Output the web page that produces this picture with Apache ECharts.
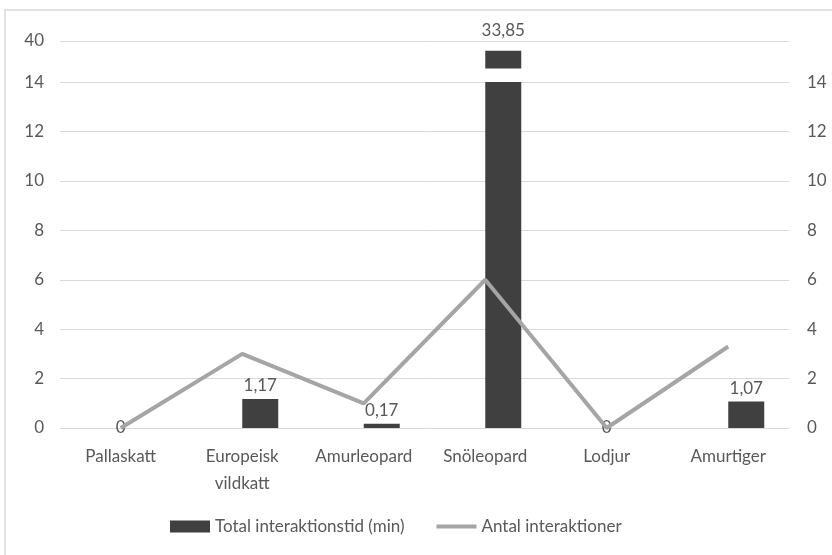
<!DOCTYPE html>
<html>
<head>
<meta charset="utf-8">
<script src="https://cdn.jsdelivr.net/npm/echarts@6/dist/echarts.min.js"></script>
<style>
  html, body { margin: 0; padding: 0; background: #ffffff; }
  #chart { width: 832px; height: 555px; }
</style>
</head>
<body>
<div id="chart"></div>
<script>
// Categories and values
const categories = ['Pallaskatt', 'Europeisk\nvildkatt', 'Amurleopard', 'Snöleopard', 'Lodjur', 'Amurtiger'];
const totalMinutes = [0, 1.17, 0.17, 33.85, 0, 1.07];
const interactions = [0, 3, 1, 6, 0, 3.3];
const seriesNames = ['Total interaktionstid (min)', 'Antal interaktioner'];

// Broken value axis: linear up to BREAK_AT, compressed above it up to AXIS_TOP
const BREAK_AT = 14;
const AXIS_TOP = 40;
const BREAK_SCALE = 0.064;   // axis units per value unit above the break
const BREAK_GAP = 0.55;      // white cut drawn across bars that pass the break
const TICK_STEP = 2;

function toAxis(v) {
  return v <= BREAK_AT ? v : BREAK_AT + (v - BREAK_AT) * BREAK_SCALE;
}
function fromAxis(a) {
  return a <= BREAK_AT ? a : BREAK_AT + (a - BREAK_AT) / BREAK_SCALE;
}
const axisMax = toAxis(AXIS_TOP);

const FONT = 'Lato, "Open Sans", sans-serif';
const FONT_SIZE = 17;
const TEXT = '#595959';
const BAR = '#404040';
const LINE = '#a5a5a5';

const fmt = v => String(Math.round(v * 100) / 100).replace('.', ',');

// Bar split into: part below the break, transparent cut, part above the cut
const lowPart = totalMinutes.map(v => Math.min(v, BREAK_AT));
const cutPart = totalMinutes.map(v => v > BREAK_AT ? BREAK_GAP : null);
const highPart = totalMinutes.map(v => v > BREAK_AT ? toAxis(v) - BREAK_AT - BREAK_GAP : null);

const valueLabel = {
  show: true, position: 'top', distance: 5,
  color: TEXT, fontFamily: FONT, fontSize: FONT_SIZE,
  formatter: p => fmt(totalMinutes[p.dataIndex])
};

const lowData = lowPart.map((v, i) => {
  const item = { value: v };
  if (totalMinutes[i] > BREAK_AT) {
    item.label = { show: false };
  } else if (totalMinutes[i] === 0) {
    // zero bars: value sits on the baseline at the category centre
    item.label = { position: 'inside', offset: [-18, 0] };
  }
  return item;
});

// legend stroke for the line series: a thin band inside a 40x12 box
const lineIcon = 'path://M0,0 L40,0 Z M0,4 L40,4 L40,8 L0,8 Z M0,12 L40,12 Z';

const option = {
  animation: false,
  backgroundColor: '#ffffff',
  textStyle: { fontFamily: FONT },
  graphic: [{
    type: 'rect',
    shape: { x: 5, y: 10, width: 900, height: 700 },
    style: { fill: 'none', stroke: '#d9d9d9', lineWidth: 1.5 },
    silent: true
  }],
  grid: { left: 60, right: 43, top: 41, bottom: 127 },
  legend: {
    bottom: 15,
    left: 165,
    itemGap: 32,
    itemWidth: 40,
    itemHeight: 12,
    textStyle: { color: TEXT, fontFamily: FONT, fontSize: FONT_SIZE },
    data: [
      { name: seriesNames[0], icon: 'rect' },
      { name: seriesNames[1], icon: lineIcon }
    ]
  },
  xAxis: {
    type: 'category',
    data: categories,
    axisLine: { show: false },
    axisTick: { show: false },
    axisLabel: { color: TEXT, fontFamily: FONT, fontSize: FONT_SIZE, margin: 15, lineHeight: 27, interval: 0 }
  },
  yAxis: [{
    type: 'value',
    min: 0, max: axisMax, interval: TICK_STEP,
    axisLine: { show: false },
    axisTick: { show: false },
    splitLine: { lineStyle: { color: '#d9d9d9', width: 1 } },
    axisLabel: {
      color: TEXT, fontFamily: FONT, fontSize: FONT_SIZE, margin: 16,
      formatter: v => String(Math.round(fromAxis(v)))
    }
  }, {
    type: 'value',
    min: 0, max: axisMax, interval: TICK_STEP,
    axisLine: { show: false },
    axisTick: { show: false },
    splitLine: { show: false },
    axisLabel: {
      color: TEXT, fontFamily: FONT, fontSize: FONT_SIZE, margin: 18,
      formatter: v => v > BREAK_AT ? '' : String(Math.round(v))
    }
  }],
  series: [
    // empty slot to the left of each bar
    { type: 'bar', name: '_slot', data: categories.map(() => null), barWidth: 36, barGap: '0%' },
    {
      type: 'bar', name: seriesNames[0], stack: 'time', data: lowData,
      barWidth: 36, barGap: '0%',
      itemStyle: { color: BAR },
      label: valueLabel
    },
    {
      type: 'bar', name: seriesNames[0], stack: 'time', data: cutPart,
      barWidth: 36, barGap: '0%',
      itemStyle: { color: 'rgba(0,0,0,0)' },
      label: { show: false }
    },
    {
      type: 'bar', name: seriesNames[0], stack: 'time', data: highPart,
      barWidth: 36, barGap: '0%',
      itemStyle: { color: BAR },
      label: Object.assign({}, valueLabel, { distance: 12 })
    },
    {
      type: 'line', name: seriesNames[1], yAxisIndex: 1, data: interactions,
      symbol: 'none', z: 5,
      lineStyle: { color: LINE, width: 4 },
      itemStyle: { color: LINE }
    }
  ]
};

const chart = echarts.init(document.getElementById('chart'), null, { renderer: 'canvas' });
chart.setOption(option);
</script>
</body>
</html>
